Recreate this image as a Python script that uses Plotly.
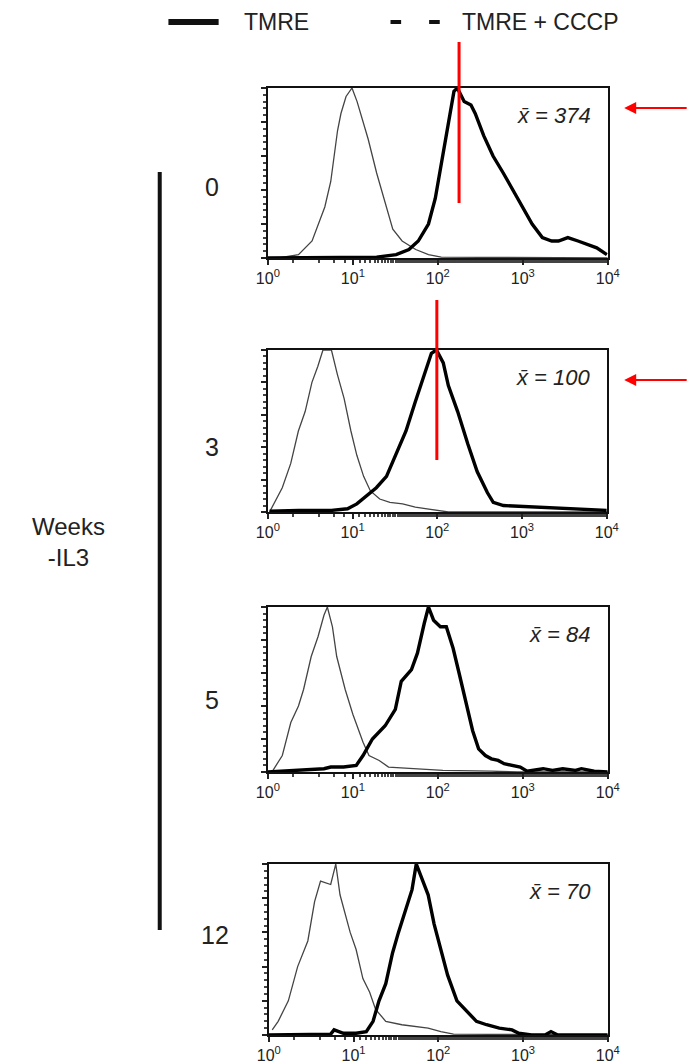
import numpy as np
import plotly.graph_objects as go

# ---------------- data (log10 intensity, normalized counts) ----------------
weeks = ["0", "3", "5", "12"]
means = ["374", "100", "84", "70"]
tick_vals = [1, 10, 100, 1000, 10000]
tick_text = ["10<sup>0</sup>", "10<sup>1</sup>", "10<sup>2</sup>", "10<sup>3</sup>", "10<sup>4</sup>"]

# week 0
cccp0_logx = [0.0, 0.13, 0.36, 0.52, 0.67, 0.74, 0.82, 0.86, 0.92, 0.99, 1.05, 1.13, 1.18, 1.28, 1.39,
              1.47, 1.58, 1.74, 1.89, 2.04, 4.0]
cccp0_y = [0.0, 0.0, 0.02, 0.10, 0.30, 0.45, 0.75, 0.85, 0.95, 1.0, 0.92, 0.78, 0.70, 0.50, 0.30,
           0.17, 0.10, 0.05, 0.02, 0.005, 0.0]
tmre0_logx = [0.0, 1.28, 1.51, 1.66, 1.77, 1.89, 1.97, 2.04, 2.12, 2.19, 2.23, 2.31, 2.39, 2.44, 2.54,
              2.65, 2.77, 2.88, 3.00, 3.11, 3.23, 3.34, 3.42, 3.53, 3.65, 3.76, 3.87, 3.99]
tmre0_y = [0.0, 0.005, 0.02, 0.05, 0.10, 0.20, 0.35, 0.55, 0.80, 0.98, 1.0, 0.92, 0.90, 0.85, 0.72,
           0.60, 0.50, 0.40, 0.30, 0.20, 0.12, 0.10, 0.10, 0.12, 0.10, 0.08, 0.06, 0.02]

# week 3
cccp3_logx = [0.02, 0.10, 0.17, 0.27, 0.36, 0.44, 0.52, 0.59, 0.65, 0.75, 0.82, 0.90, 0.98, 1.05, 1.13,
              1.21, 1.32, 1.44, 1.59, 1.74, 1.97, 2.13, 4.0]
cccp3_y = [0.0, 0.08, 0.15, 0.30, 0.50, 0.62, 0.80, 0.90, 1.0, 1.0, 0.85, 0.70, 0.50, 0.35, 0.22,
           0.13, 0.08, 0.06, 0.05, 0.03, 0.01, 0.0, 0.0]
tmre3_logx = [0.02, 0.36, 0.75, 0.94, 1.05, 1.17, 1.28, 1.40, 1.51, 1.63, 1.74, 1.86, 1.93, 1.99, 2.07,
              2.13, 2.24, 2.36, 2.47, 2.59, 2.66, 2.78, 2.97, 3.24, 3.43, 3.66, 3.81, 4.0]
tmre3_y = [0.005, 0.01, 0.01, 0.02, 0.05, 0.10, 0.15, 0.22, 0.35, 0.50, 0.68, 0.87, 0.98, 1.0, 0.92,
           0.78, 0.62, 0.42, 0.25, 0.12, 0.06, 0.04, 0.035, 0.03, 0.025, 0.02, 0.015, 0.01]

# week 5
cccp5_logx = [0.06, 0.17, 0.27, 0.36, 0.42, 0.51, 0.59, 0.66, 0.70, 0.76, 0.81, 0.91, 1.00, 1.12, 1.19,
              1.31, 1.42, 1.69, 2.06, 2.63, 2.94, 4.0]
cccp5_y = [0.01, 0.10, 0.30, 0.40, 0.50, 0.70, 0.82, 0.95, 1.0, 0.88, 0.70, 0.50, 0.35, 0.18, 0.10,
           0.07, 0.03, 0.02, 0.01, 0.005, 0.0, 0.0]
tmre5_logx = [0.0, 0.66, 0.74, 0.89, 1.04, 1.12, 1.23, 1.38, 1.50, 1.57, 1.69, 1.76, 1.84, 1.89, 1.95,
              2.03, 2.10, 2.18, 2.25, 2.33, 2.41, 2.48, 2.56, 2.63, 2.71, 2.78, 2.90, 2.97, 3.05,
              3.24, 3.35, 3.47, 3.62, 3.69, 3.84, 4.0]
tmre5_y = [0.0, 0.02, 0.03, 0.03, 0.04, 0.10, 0.20, 0.28, 0.38, 0.55, 0.62, 0.72, 0.90, 1.0, 0.92,
           0.88, 0.88, 0.75, 0.60, 0.42, 0.25, 0.14, 0.10, 0.08, 0.07, 0.05, 0.04, 0.03, 0.005,
           0.02, 0.01, 0.02, 0.01, 0.02, 0.005, 0.0]

# week 12
cccp12_logx = [0.04, 0.11, 0.23, 0.34, 0.46, 0.54, 0.61, 0.73, 0.79, 0.84, 0.96, 1.03, 1.11, 1.19, 1.26,
               1.38, 1.57, 1.72, 1.88, 2.03, 2.18, 4.0]
cccp12_y = [0.03, 0.08, 0.20, 0.40, 0.55, 0.78, 0.90, 0.88, 1.0, 0.82, 0.60, 0.50, 0.33, 0.25, 0.15,
            0.08, 0.06, 0.05, 0.04, 0.02, 0.005, 0.0]
tmre12_logx = [0.0, 0.73, 0.77, 0.88, 1.03, 1.15, 1.23, 1.30, 1.38, 1.46, 1.53, 1.61, 1.69, 1.74, 1.82,
               1.88, 1.95, 2.03, 2.11, 2.22, 2.34, 2.45, 2.57, 2.72, 2.87, 2.95, 3.10, 3.26, 3.33,
               3.41, 4.0]
tmre12_y = [0.0, 0.005, 0.03, 0.01, 0.01, 0.02, 0.08, 0.20, 0.30, 0.48, 0.60, 0.72, 0.85, 1.0, 0.90,
            0.82, 0.65, 0.50, 0.35, 0.20, 0.14, 0.08, 0.06, 0.04, 0.03, 0.01, 0.0, 0.0, 0.02,
            0.0, 0.0]

cccp_sets = [(cccp0_logx, cccp0_y), (cccp3_logx, cccp3_y), (cccp5_logx, cccp5_y), (cccp12_logx, cccp12_y)]
tmre_sets = [(tmre0_logx, tmre0_y), (tmre3_logx, tmre3_y), (tmre5_logx, tmre5_y), (tmre12_logx, tmre12_y)]

# ---------------- layout ----------------
W, H = 697, 1064
FONT = "Liberation Sans, Arial, sans-serif"
# panel pixel boxes (left, right, top, bottom)
boxes = [(265, 617, 88, 258), (265, 616, 350, 512), (265, 617, 607, 772), (266, 617, 864, 1035)]

fig = go.Figure()
layout = dict(
    width=W, height=H, margin=dict(l=0, r=0, t=0, b=0),
    paper_bgcolor="white", plot_bgcolor="white", showlegend=False,
    font=dict(family=FONT, color="#111"),
)

annotations = []
shapes = []
for i in range(4):
    l, r, t, b = boxes[i]
    xa = "xaxis" if i == 0 else f"xaxis{i+1}"
    ya = "yaxis" if i == 0 else f"yaxis{i+1}"
    xr = "x" if i == 0 else f"x{i+1}"
    yr = "y" if i == 0 else f"y{i+1}"
    layout[xa] = dict(
        domain=[l / W, r / W], anchor=yr, type="log", range=[0, 4],
        tickvals=tick_vals, ticktext=tick_text, ticks="outside", ticklen=5, tickwidth=1.5,
        tickcolor="#222", showgrid=False, zeroline=False, showline=True, linecolor="#111",
        linewidth=1.5, mirror=True, tickfont=dict(size=16, color="#222", family=FONT),
        minor=dict(ticks="outside", ticklen=3, tickcolor="#444", showgrid=False),
    )
    layout[ya] = dict(
        domain=[1 - b / H, 1 - t / H], anchor=xr, range=[0, 1.0],
        showticklabels=False, ticks="outside", ticklen=5, tickwidth=1.5, tickcolor="#222",
        dtick=0.2, tick0=0, showgrid=False, zeroline=False, showline=True, linecolor="#111",
        linewidth=1.5, mirror=True,
        minor=dict(ticks="outside", ticklen=3, dtick=0.04, tickcolor="#444", showgrid=False),
    )
    cx, cy = cccp_sets[i]
    tx, ty = tmre_sets[i]
    fig.add_trace(go.Scatter(x=10 ** np.array(cx), y=cy, mode="lines", xaxis=xr, yaxis=yr,
                             line=dict(color="#444", width=1.3), name="TMRE + CCCP"))
    fig.add_trace(go.Scatter(x=10 ** np.array(tx), y=ty, mode="lines", xaxis=xr, yaxis=yr,
                             line=dict(color="#000", width=3.4), name="TMRE"))
    # mean annotation
    annotations.append(dict(xref="paper", yref="paper", x=602 / W, y=1 - (t + 27) / H,
                            xanchor="right", yanchor="middle", showarrow=False,
                            text="<i>x\u0304 = " + means[i] + "</i>",
                            font=dict(size=22, color="#222", family=FONT)))
    # week label
    annotations.append(dict(xref="paper", yref="paper", x=(207 if i < 3 else 210) / W,
                            y=1 - [187, 447, 700, 935][i] / H, xanchor="center", yanchor="middle",
                            showarrow=False, text=weeks[i],
                            font=dict(size=25, color="#222", family=FONT)))

# legend (drawn manually)
shapes.append(dict(type="line", xref="paper", yref="paper", x0=162 / W, x1=214 / W,
                   y0=1 - 22 / H, y1=1 - 22 / H, line=dict(color="#111", width=6)))
for xa0, xa1 in [(392, 403), (432, 443)]:
    shapes.append(dict(type="line", xref="paper", yref="paper", x0=xa0 / W, x1=xa1 / W,
                       y0=1 - 22 / H, y1=1 - 22 / H, line=dict(color="#111", width=4)))
annotations.append(dict(xref="paper", yref="paper", x=238 / W, y=1 - 22 / H, xanchor="left",
                        yanchor="middle", showarrow=False, text="TMRE",
                        font=dict(size=23, color="#222", family=FONT)))
annotations.append(dict(xref="paper", yref="paper", x=464 / W, y=1 - 22 / H, xanchor="left",
                        yanchor="middle", showarrow=False, text="TMRE + CCCP",
                        font=dict(size=23, color="#222", family=FONT)))

# left bracket and label
shapes.append(dict(type="line", xref="paper", yref="paper", x0=153 / W, x1=153 / W,
                   y0=1 - 172 / H, y1=1 - 930 / H, line=dict(color="#111", width=4)))
annotations.append(dict(xref="paper", yref="paper", x=58 / W, y=1 - 542 / H, xanchor="center",
                        yanchor="middle", showarrow=False, text="Weeks<br>-IL3",
                        font=dict(size=24, color="#222", family=FONT)))

# red markers
shapes.append(dict(type="line", xref="paper", yref="paper", x0=463 / W, x1=463 / W,
                   y0=1 - 42 / H, y1=1 - 203 / H, line=dict(color="#ff0000", width=3)))
shapes.append(dict(type="line", xref="paper", yref="paper", x0=440 / W, x1=440 / W,
                   y0=1 - 300 / H, y1=1 - 460 / H, line=dict(color="#ff0000", width=3)))
for ya_px in [108, 380]:
    annotations.append(dict(xref="paper", yref="paper", axref="pixel", ayref="pixel",
                            x=634 / W, y=1 - ya_px / H, ax=64, ay=0, text="", showarrow=True,
                            arrowhead=2, arrowsize=1.2, arrowwidth=2, arrowcolor="#ff0000"))

layout["annotations"] = annotations
layout["shapes"] = shapes
fig.update_layout(**layout)
fig.write_html("out.html", config={"displayModeBar": False},
               post_script="document.body.style.margin='0';document.body.style.overflow='hidden';")
